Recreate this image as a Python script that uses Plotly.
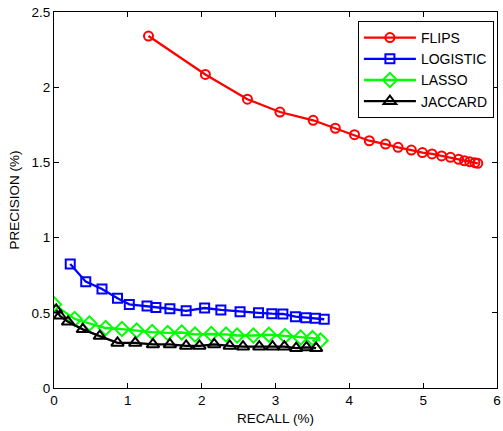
import plotly.graph_objects as go

flips_recall = [1.28, 2.05, 2.62, 3.06, 3.51, 3.81, 4.07, 4.27, 4.49, 4.66,
                4.84, 4.99, 5.12, 5.25, 5.37, 5.48, 5.56, 5.63, 5.70, 5.74]
flips_precision = [2.34, 2.085, 1.92, 1.835, 1.78, 1.727, 1.684, 1.644, 1.622, 1.600,
                   1.582, 1.565, 1.556, 1.543, 1.534, 1.521, 1.511, 1.505, 1.498, 1.494]

logistic_recall = [0.22, 0.43, 0.65, 0.86, 1.02, 1.26, 1.38, 1.57, 1.79, 2.04,
                   2.26, 2.52, 2.77, 2.95, 3.10, 3.27, 3.41, 3.54, 3.66]
logistic_precision = [0.824, 0.707, 0.658, 0.596, 0.556, 0.545, 0.536, 0.527, 0.513, 0.532,
                      0.519, 0.507, 0.500, 0.494, 0.492, 0.474, 0.467, 0.463, 0.457]

lasso_recall = [0.0, 0.28, 0.48, 0.70, 0.92, 1.12, 1.33, 1.54, 1.73, 1.91,
                2.13, 2.33, 2.48, 2.70, 2.91, 3.13, 3.34, 3.50, 3.61]
lasso_precision = [0.556, 0.459, 0.429, 0.399, 0.392, 0.382, 0.372, 0.366, 0.369, 0.356,
                   0.359, 0.356, 0.349, 0.349, 0.354, 0.346, 0.336, 0.332, 0.316]

jaccard_recall = [0.03, 0.08, 0.19, 0.39, 0.62, 0.86, 1.10, 1.34, 1.57, 1.79,
                  1.97, 2.17, 2.38, 2.56, 2.78, 2.96, 3.12, 3.28, 3.42, 3.55]
jaccard_precision = [0.52, 0.48, 0.44, 0.39, 0.345, 0.30, 0.30, 0.29, 0.29, 0.28,
                     0.28, 0.29, 0.28, 0.275, 0.275, 0.275, 0.275, 0.265, 0.27, 0.265]

series = [
    ("FLIPS", flips_recall, flips_precision, "#ff0000", "circle-open", 9),
    ("LOGISTIC", logistic_recall, logistic_precision, "#0000ff", "square-open", 9),
    ("LASSO", lasso_recall, lasso_precision, "#00ff00", "diamond-open", 11),
    ("JACCARD", jaccard_recall, jaccard_precision, "#000000", "triangle-up-open", 11),
]

FONT = "Liberation Sans, Arial, Helvetica, sans-serif"

fig = go.Figure()
for name, xs, ys, col, sym, size in series:
    fig.add_trace(go.Scatter(
        x=xs, y=ys, name=name, mode="lines+markers",
        line=dict(color=col, width=2.3),
        marker=dict(symbol=sym, size=size, color=col, line=dict(color=col, width=2)),
        hoverinfo="skip",
    ))

axis_common = dict(
    showline=True, linecolor="black", linewidth=1, mirror="ticks",
    ticks="inside", ticklen=5, tickcolor="black", tickwidth=1,
    showgrid=False, zeroline=False, automargin=False,
    ticklabeloverflow="allow",
    tickfont=dict(family=FONT, size=13.5, color="black"),
)

fig.update_layout(
    width=503, height=431,
    margin=dict(l=54, r=6, t=12, b=43),
    paper_bgcolor="white", plot_bgcolor="white",
    font=dict(family=FONT, size=13.5, color="black"),
    xaxis=dict(range=[0, 6], tickvals=[0, 1, 2, 3, 4, 5, 6],
               title=dict(text="RECALL (%)", standoff=6,
                          font=dict(family=FONT, size=13.5, color="black")),
               **axis_common),
    yaxis=dict(range=[0, 2.5], tickvals=[0, 0.5, 1, 1.5, 2, 2.5],
               ticktext=["0", "0.5", "1", "1.5", "2", "2.5"],
               title=dict(text="PRECISION (%)", standoff=8,
                          font=dict(family=FONT, size=13.5, color="black")),
               **axis_common),
    legend=dict(x=0.993, y=0.976, xanchor="right", yanchor="top",
                bgcolor="white", bordercolor="black", borderwidth=1,
                font=dict(family=FONT, size=14, color="black"),
                itemwidth=52, tracegroupgap=0),
    showlegend=True,
)

fig.write_html(
    "out.html",
    config={"displayModeBar": False},
    post_script="document.body.style.margin='0';document.body.style.overflow='hidden';",
)
